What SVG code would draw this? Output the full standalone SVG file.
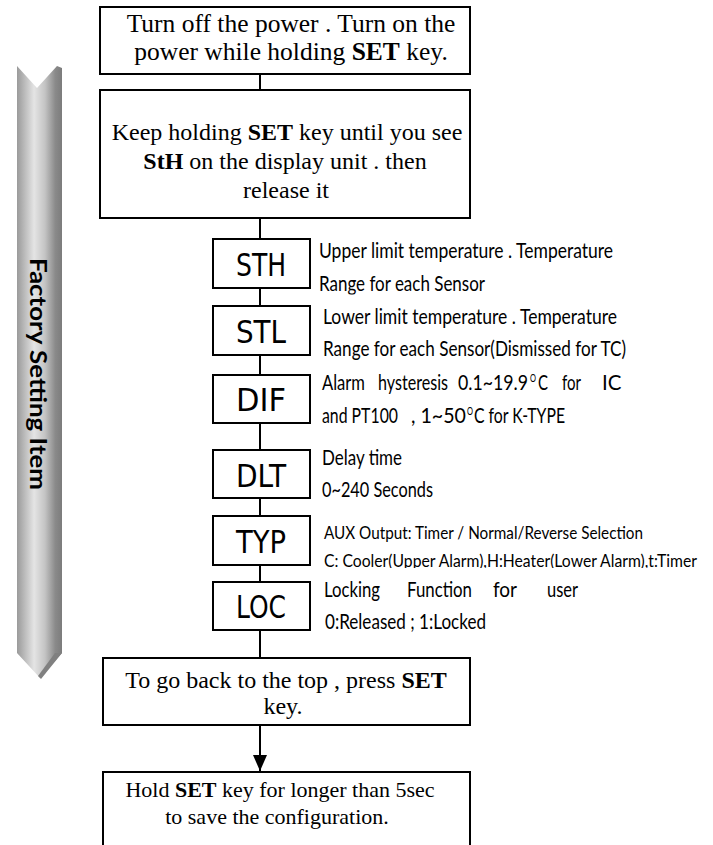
<svg xmlns="http://www.w3.org/2000/svg" width="713" height="845" viewBox="0 0 713 845">
<style>
.box{fill:#fff;stroke:#000;stroke-width:2}
.main{font-family:"Liberation Serif","Times New Roman",serif;font-size:24px;fill:#000;text-anchor:middle}
.big{font-size:25.5px}
.b{font-weight:bold}
.disp{font-family:"DejaVu Sans",sans-serif;font-stretch:condensed;font-size:32px;fill:#000}
.side{font-family:Lato,"Open Sans",sans-serif;font-size:20.5px;fill:#000}
.small{font-size:18px}
.sup{font-size:11px}
.conn{stroke:#000;stroke-width:2;fill:none}
.label{font-family:Lato,"Liberation Sans",sans-serif;font-weight:bold;font-size:23px;fill:#000;text-anchor:middle}
</style>
<defs>
<linearGradient id="grey" gradientUnits="userSpaceOnUse" x1="17" y1="0" x2="62" y2="0">
<stop offset="0" stop-color="#9a9a9a"/>
<stop offset="0.38" stop-color="#e4e4e4"/>
<stop offset="0.62" stop-color="#c4c4c4"/>
<stop offset="0.85" stop-color="#8a8a8a"/>
<stop offset="1" stop-color="#7c7c7c"/>
</linearGradient>
<marker id="ah" markerUnits="userSpaceOnUse" markerWidth="16" markerHeight="14" refX="16" refY="7" orient="auto">
<path d="M0,0 L16,7 L0,14 z" fill="#000"/>
</marker>
<clipPath id="clipL2"><rect x="300" y="262" width="400" height="32.5"/></clipPath>
<clipPath id="clipL10"><rect x="300" y="542" width="413" height="26"/></clipPath>
</defs>

<g id="side-arrow">
<path d="M17,66 L37,88 L57,66 L62,68 L62,653 L40,678 L17,653 Z" fill="url(#grey)"/>
<path d="M55,653 L62,653 L41,679 L38,676 Z" fill="#808080"/>
<text class="label" transform="translate(30,374) rotate(90)" textLength="232" lengthAdjust="spacingAndGlyphs">Factory Setting Item</text>
</g>

<g id="connectors">
<line class="conn" x1="260" y1="74" x2="260" y2="90"/>
<line class="conn" x1="260" y1="218" x2="260" y2="239"/>
<line class="conn" x1="260" y1="288" x2="260" y2="306"/>
<line class="conn" x1="260" y1="355" x2="260" y2="375"/>
<line class="conn" x1="260" y1="423" x2="260" y2="450"/>
<line class="conn" x1="260" y1="498" x2="260" y2="516"/>
<line class="conn" x1="260" y1="565" x2="260" y2="582"/>
<line class="conn" x1="260" y1="630" x2="260" y2="658"/>
<line class="conn" x1="260" y1="725" x2="260" y2="771" marker-end="url(#ah)"/>
</g>

<g id="step-power">
<rect class="box" x="100" y="7" width="370" height="67"/>
<text class="main big" x="291" y="32">Turn off the power . Turn on the</text>
<text class="main big" x="291" y="60">power while holding <tspan class="b">SET</tspan> key.</text>
</g>

<g id="step-hold">
<rect class="box" x="100" y="90" width="370" height="128"/>
<text class="main" x="287" y="140">Keep holding <tspan class="b">SET</tspan> key until you see</text>
<text class="main" x="285" y="169"><tspan class="b">StH</tspan> on the display unit . then</text>
<text class="main" x="286" y="198">release it</text>
</g>

<g id="item-sth">
<rect class="box" x="213" y="239" width="97" height="49"/>
<text class="disp" x="236" y="276" textLength="50" lengthAdjust="spacingAndGlyphs">STH</text>
<text class="side" x="319" y="258" textLength="294" lengthAdjust="spacingAndGlyphs">Upper limit temperature . Temperature</text>
<text class="side" x="319" y="291" textLength="166" lengthAdjust="spacingAndGlyphs" clip-path="url(#clipL2)">Range for each Sensor</text>
</g>

<g id="item-stl">
<rect class="box" x="213" y="306" width="97" height="49"/>
<text class="disp" x="236" y="343" textLength="50" lengthAdjust="spacingAndGlyphs">STL</text>
<text class="side" x="323" y="324" textLength="294" lengthAdjust="spacingAndGlyphs">Lower limit temperature . Temperature</text>
<text class="side" x="323" y="356" textLength="303" lengthAdjust="spacingAndGlyphs">Range for each Sensor(Dismissed for TC)</text>
</g>

<g id="item-dif">
<rect class="box" x="213" y="375" width="97" height="48"/>
<text class="disp" x="236" y="411" textLength="50" lengthAdjust="spacingAndGlyphs">DIF</text>
<text class="side" y="390"><tspan x="322" textLength="43" lengthAdjust="spacingAndGlyphs">Alarm</tspan><tspan x="378" textLength="70" lengthAdjust="spacingAndGlyphs">hysteresis</tspan><tspan x="458" textLength="70" lengthAdjust="spacingAndGlyphs">0.1~19.9</tspan><tspan class="sup" x="530" dy="-8" textLength="6" lengthAdjust="spacingAndGlyphs">O</tspan><tspan x="538" dy="8" textLength="10" lengthAdjust="spacingAndGlyphs">C</tspan><tspan x="562" textLength="19" lengthAdjust="spacingAndGlyphs">for</tspan><tspan x="602">IC</tspan></text>
<text class="side" y="423"><tspan x="322" textLength="76" lengthAdjust="spacingAndGlyphs">and PT100</tspan><tspan x="411" textLength="55" lengthAdjust="spacingAndGlyphs">, 1~50</tspan><tspan class="sup" x="467" dy="-8" textLength="6" lengthAdjust="spacingAndGlyphs">O</tspan><tspan x="474" dy="8" textLength="91" lengthAdjust="spacingAndGlyphs">C for K-TYPE</tspan></text>
</g>

<g id="item-dlt">
<rect class="box" x="213" y="450" width="97" height="48"/>
<text class="disp" x="236" y="487" textLength="50" lengthAdjust="spacingAndGlyphs">DLT</text>
<text class="side" x="322" y="465" textLength="80" lengthAdjust="spacingAndGlyphs">Delay time</text>
<text class="side" x="322" y="497" textLength="111" lengthAdjust="spacingAndGlyphs">0~240 Seconds</text>
</g>

<g id="item-typ">
<rect class="box" x="213" y="516" width="97" height="49"/>
<text class="disp" x="236" y="553" textLength="50" lengthAdjust="spacingAndGlyphs">TYP</text>
<text class="side small" x="324" y="539" textLength="319" lengthAdjust="spacingAndGlyphs">AUX Output: Timer / Normal/Reverse Selection</text>
<text class="side small" x="324" y="567" textLength="373" lengthAdjust="spacingAndGlyphs" clip-path="url(#clipL10)">C: Cooler(Upper Alarm),H:Heater(Lower Alarm),t:Timer</text>
</g>

<g id="item-loc">
<rect class="box" x="213" y="582" width="97" height="48"/>
<text class="disp" x="236" y="618" textLength="50" lengthAdjust="spacingAndGlyphs">LOC</text>
<text class="side" y="597"><tspan x="324" textLength="56" lengthAdjust="spacingAndGlyphs">Locking</tspan><tspan x="407" textLength="65" lengthAdjust="spacingAndGlyphs">Function</tspan><tspan x="493" textLength="24" lengthAdjust="spacingAndGlyphs">for</tspan><tspan x="547" textLength="31" lengthAdjust="spacingAndGlyphs">user</tspan></text>
<text class="side" x="325" y="629" textLength="161" lengthAdjust="spacingAndGlyphs">0:Released ; 1:Locked</text>
</g>

<g id="step-back">
<rect class="box" x="103" y="658" width="367" height="67"/>
<text class="main" x="286" y="688">To go back to the top , press <tspan class="b">SET</tspan></text>
<text class="main" x="283" y="714">key.</text>
</g>

<g id="step-save">
<rect class="box" x="103" y="772" width="367" height="80"/>
<text class="main" x="280" y="797" style="font-size:22px">Hold <tspan class="b">SET</tspan> key for longer than 5sec</text>
<text class="main" x="277" y="824" style="font-size:22px">to save the configuration.</text>
</g>
</svg>
